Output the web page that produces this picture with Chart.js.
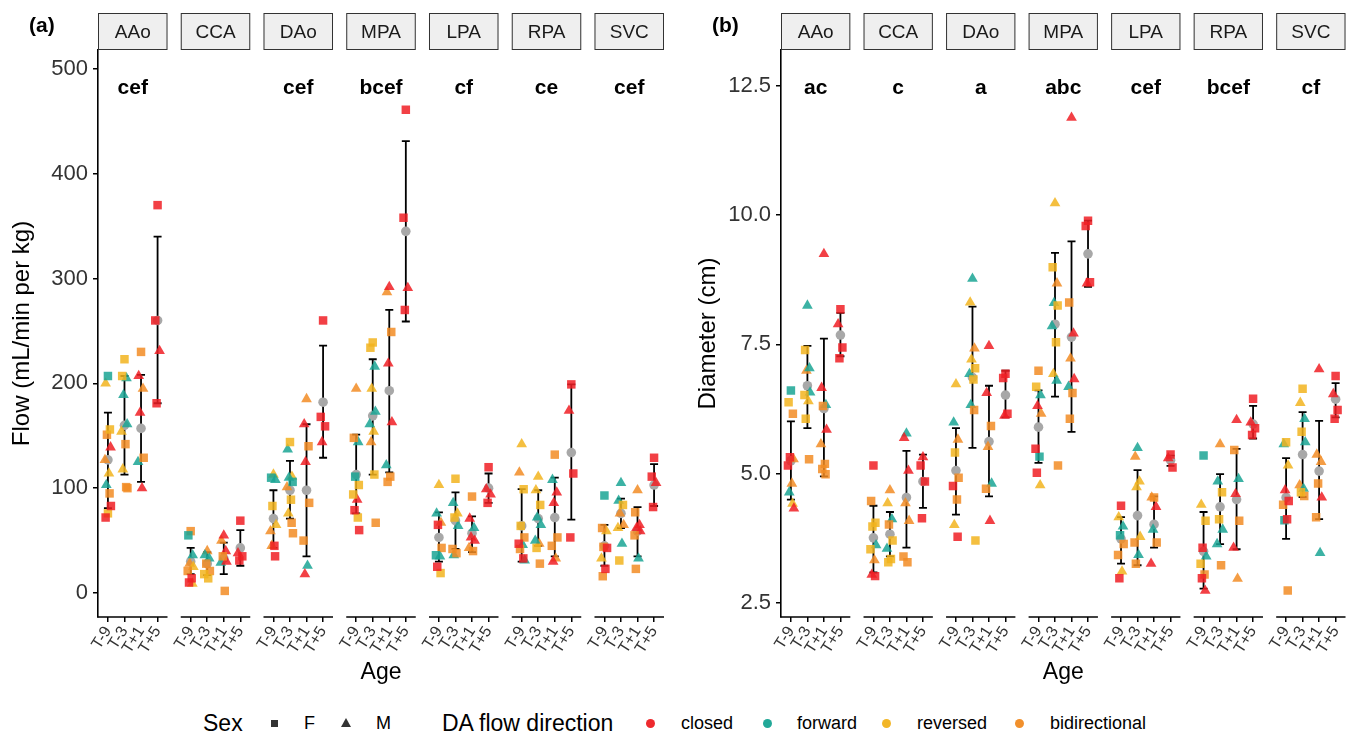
<!DOCTYPE html>
<html>
<head>
<meta charset="utf-8">
<script src="https://cdn.jsdelivr.net/npm/chart.js@4.4.0/dist/chart.umd.min.js"></script>
<style>
  body { margin: 0; background: #fff; font-family: "Liberation Sans", Arial, sans-serif; }
  #wrap { position: relative; width: 1353px; height: 733px; overflow: hidden; }
  canvas { position: absolute; top: 0; }
  .tag { position: absolute; top: 12px; font-weight: bold; font-size: 21px; line-height: 26px; }
  .lg { position: absolute; top: 710px; line-height: 26px; white-space: nowrap; color: #000; }
  .big { font-size: 23px; }
  .small { font-size: 18px; }
  .sq { position: absolute; top: 720px; width: 7px; height: 7px; background: #333; }
  .tri { position: absolute; top: 718px; width: 0; height: 0; border-left: 5px solid transparent;
         border-right: 5px solid transparent; border-bottom: 9px solid #333; }
  .dot { position: absolute; top: 719px; width: 9px; height: 9px; border-radius: 50%; }
</style>
</head>
<body>
<div id="wrap">
  <canvas id="flowChart" width="676" height="700" style="left:0"></canvas>
  <canvas id="diamChart" width="677" height="700" style="left:676px"></canvas>
  <div class="tag" style="left:29px">(a)</div>
  <div class="tag" style="left:712px">(b)</div>

  <span class="lg big" style="left:203px">Sex</span>
  <div class="sq" style="left:271px"></div>
  <span class="lg small" style="left:304px">F</span>
  <div class="tri" style="left:341px"></div>
  <span class="lg small" style="left:376px">M</span>
  <span class="lg big" style="left:442px">DA flow direction</span>
  <div class="dot" style="left:646px;background:#EE2A2E"></div>
  <span class="lg small" style="left:681px">closed</span>
  <div class="dot" style="left:763px;background:#22A898"></div>
  <span class="lg small" style="left:797px">forward</span>
  <div class="dot" style="left:882px;background:#F2B627"></div>
  <span class="lg small" style="left:917px">reversed</span>
  <div class="dot" style="left:1015px;background:#F1902C"></div>
  <span class="lg small" style="left:1050px">bidirectional</span>
</div>
<script>
const facets = ["AAo", "CCA", "DAo", "MPA", "LPA", "RPA", "SVC"];
const ages = ["T-9", "T-3", "T+1", "T+5"];

// panel (a): flow
const flowLetters = ["cef", "", "cef", "bcef", "cf", "ce", "cef"];
const flowMean = [[127, 160, 157, 260], [30, 28, 33, 43], [71, 98, 98, 182], [113, 169, 193, 345],
                  [53, 69, 57, 100], [64, 71, 72, 134], [45, 76, 59, 103]];
const flowLow  = [[81, 113, 106, 181], [18, 17, 18, 26], [43, 71, 35, 129], [76, 113, 115, 259],
                  [30, 42, 39, 86], [30, 45, 35, 70], [26, 62, 35, 83]];
const flowHigh = [[172, 207, 208, 340], [43, 39, 48, 60], [98, 126, 161, 236], [151, 223, 270, 431],
                  [77, 96, 73, 114], [99, 98, 110, 199], [65, 90, 82, 123]];

// points: [age index, value, sex + DA flow (c closed, f forward, r reversed, b bidirectional)]
const flowAAo = [[0,207,"Ff"],[0,200,"Mr"],[0,156,"Fr"],[0,151,"Fb"],[0,139,"Mc"],[0,127,"Mb"],[0,114,"Mr"],
  [0,103,"Mf"],[0,95,"Fb"],[0,83,"Fc"],[0,76,"Fr"],[0,72,"Fc"],
  [1,223,"Fr"],[1,207,"Fr"],[1,205,"Mf"],[1,189,"Mf"],[1,161,"Mf"],[1,154,"Mr"],[1,142,"Fb"],[1,118,"Mr"],
  [1,101,"Fb"],[1,100,"Fb"],
  [2,230,"Fb"],[2,207,"Mc"],[2,195,"Mb"],[2,172,"Mc"],[2,129,"Fb"],[2,125,"Mf"],[2,100,"Mc"],
  [3,370,"Fc"],[3,260,"Fc"],[3,231,"Mc"],[3,181,"Fc"]];
const flowCCA = [[0,59,"Fb"],[0,55,"Ff"],[0,36,"Mf"],[0,28,"Mb"],[0,25,"Mr"],[0,21,"Fb"],[0,14,"Fc"],[0,10,"Fc"],[0,9,"Mr"],
  [1,40,"Mb"],[1,36,"Mf"],[1,33,"Mf"],[1,28,"Fb"],[1,21,"Fb"],[1,18,"Fr"],[1,14,"Fr"],
  [2,55,"Mc"],[2,50,"Mb"],[2,40,"Mc"],[2,35,"Fb"],[2,30,"Mc"],[2,29,"Mf"],[2,2,"Fb"],
  [3,69,"Fc"],[3,38,"Mc"],[3,35,"Fc"],[3,31,"Fc"]];
const flowDAo = [[0,113,"Mr"],[0,110,"Ff"],[0,108,"Mf"],[0,83,"Fr"],[0,65,"Mr"],[0,59,"Mb"],[0,45,"Fc"],[0,45,"Mb"],[0,35,"Fc"],
  [1,144,"Fr"],[1,137,"Mf"],[1,111,"Mr"],[1,110,"Mf"],[1,106,"Ff"],[1,101,"Mb"],[1,89,"Fr"],[1,76,"Mr"],[1,67,"Fb"],[1,57,"Fb"],
  [2,185,"Mb"],[2,161,"Mc"],[2,140,"Fb"],[2,125,"Mc"],[2,86,"Fb"],[2,50,"Fb"],[2,26,"Mf"],[2,18,"Mc"],
  [3,260,"Fc"],[3,168,"Fc"],[3,159,"Fc"],[3,144,"Mc"]];
const flowMPA = [[0,195,"Mb"],[0,148,"Fb"],[0,144,"Mf"],[0,111,"Ff"],[0,103,"Fr"],[0,94,"Fr"],[0,89,"Mc"],[0,79,"Fc"],[0,72,"Fr"],[0,60,"Fc"],
  [1,239,"Fr"],[1,234,"Fr"],[1,216,"Mf"],[1,195,"Mr"],[1,173,"Mf"],[1,161,"Mf"],[1,154,"Mr"],[1,144,"Mb"],[1,113,"Fr"],[1,67,"Fb"],
  [2,292,"Mc"],[2,287,"Mb"],[2,249,"Fb"],[2,219,"Mc"],[2,163,"Mc"],[2,122,"Mf"],[2,111,"Fb"],[2,106,"Fb"],
  [3,461,"Fc"],[3,358,"Fc"],[3,291,"Mc"],[3,270,"Fc"]];
const flowLPA = [[0,103,"Mr"],[0,76,"Mf"],[0,67,"Mb"],[0,65,"Fc"],[0,43,"Fb"],[0,36,"Ff"],[0,35,"Mf"],[0,25,"Fc"],[0,19,"Fr"],
  [1,109,"Fr"],[1,86,"Mf"],[1,76,"Mr"],[1,72,"Fr"],[1,64,"Mf"],[1,42,"Fb"],[1,38,"Fb"],[1,36,"Mf"],
  [2,92,"Fb"],[2,71,"Mc"],[2,62,"Mf"],[2,53,"Mc"],[2,50,"Mc"],[2,43,"Mb"],[2,40,"Fb"],
  [3,120,"Fc"],[3,99,"Mc"],[3,94,"Mc"],[3,86,"Fc"]];
const flowRPA = [[0,142,"Mr"],[0,115,"Mb"],[0,99,"Fr"],[0,64,"Fr"],[0,53,"Fb"],[0,47,"Fc"],[0,46,"Mf"],[0,42,"Fb"],[0,33,"Fc"],[0,31,"Mf"],
  [1,111,"Mr"],[1,98,"Mr"],[1,84,"Fr"],[1,72,"Mf"],[1,65,"Mf"],[1,50,"Mf"],[1,47,"Mb"],[1,43,"Fr"],[1,28,"Fb"],
  [2,132,"Fb"],[2,108,"Mf"],[2,96,"Mc"],[2,86,"Mc"],[2,53,"Fb"],[2,45,"Fb"],[2,33,"Mb"],[2,30,"Mc"],
  [3,199,"Fc"],[3,174,"Mc"],[3,114,"Fc"],[3,53,"Fc"]];
const flowSVC = [[0,93,"Ff"],[0,62,"Fb"],[0,59,"Mr"],[0,44,"Fb"],[0,43,"Fc"],[0,33,"Mr"],[0,23,"Fc"],[0,16,"Fb"],
  [1,105,"Mf"],[1,88,"Mf"],[1,84,"Fr"],[1,76,"Mb"],[1,65,"Mb"],[1,62,"Mr"],[1,47,"Mf"],[1,31,"Fr"],
  [2,98,"Mb"],[2,77,"Fb"],[2,65,"Mc"],[2,62,"Mc"],[2,59,"Mc"],[2,55,"Fb"],[2,33,"Mf"],[2,23,"Fb"],
  [3,129,"Fc"],[3,111,"Fc"],[3,105,"Mc"],[3,82,"Fc"]];

// panel (b): diameter
const diamLetters = ["ac", "c", "a", "abc", "cef", "bcef", "cf"];
const diamMean = [[5.25, 6.70, 6.26, 7.68], [3.76, 3.83, 4.54, 4.85], [5.06, 6.86, 5.62, 6.52], [5.90, 7.89, 7.64, 9.25],
                  [3.74, 4.19, 4.02, 5.26], [3.50, 4.36, 4.50, 5.96], [4.54, 5.37, 5.05, 6.44]];
const diamLow  = [[4.50, 5.88, 4.95, 7.27], [3.09, 3.40, 3.57, 4.34], [4.21, 5.50, 4.56, 6.09], [5.21, 6.49, 5.81, 8.61],
                  [3.26, 3.23, 3.57, 5.15], [2.78, 3.64, 3.54, 5.68], [3.74, 4.55, 4.12, 6.09]];
const diamHigh = [[6.01, 7.47, 7.61, 8.11], [4.38, 4.26, 5.44, 5.37], [5.88, 8.23, 6.70, 6.99], [6.61, 9.27, 9.49, 9.89],
                  [4.16, 5.07, 4.56, 5.35], [4.26, 4.99, 5.48, 6.31], [5.30, 6.19, 6.02, 6.75]];

const diamAAo = [[0,6.61,"Ff"],[0,6.38,"Fr"],[0,6.16,"Fb"],[0,5.32,"Fc"],[0,5.28,"Mb"],[0,5.16,"Fc"],[0,4.81,"Mb"],[0,4.64,"Mf"],[0,4.42,"Mr"],[0,4.33,"Mc"],
  [1,8.25,"Mf"],[1,7.39,"Fr"],[1,7.04,"Mf"],[1,6.99,"Mb"],[1,6.57,"Mf"],[1,6.52,"Fr"],[1,6.40,"Mr"],[1,6.06,"Fr"],[1,5.28,"Fb"],
  [2,9.25,"Mc"],[2,6.66,"Mc"],[2,6.33,"Mf"],[2,6.31,"Fb"],[2,5.85,"Mc"],[2,5.57,"Mb"],[2,5.19,"Fb"],[2,5.09,"Fb"],[2,4.99,"Fb"],
  [3,8.18,"Fc"],[3,7.89,"Mc"],[3,7.44,"Fc"],[3,7.23,"Fc"]];
const diamCCA = [[0,5.16,"Fc"],[0,4.47,"Fb"],[0,4.05,"Fr"],[0,3.98,"Fr"],[0,3.62,"Mf"],[0,3.54,"Fr"],[0,3.33,"Mb"],[0,3.05,"Mc"],[0,3.02,"Fc"],
  [1,4.68,"Mb"],[1,4.43,"Mr"],[1,4.12,"Mf"],[1,4.02,"Fb"],[1,3.71,"Fr"],[1,3.55,"Mf"],[1,3.35,"Fr"],[1,3.29,"Fr"],
  [2,5.78,"Mf"],[2,5.69,"Mc"],[2,5.06,"Mc"],[2,4.43,"Mb"],[2,4.09,"Mb"],[2,3.40,"Fb"],[2,3.29,"Fb"],
  [3,5.32,"Mc"],[3,5.16,"Fc"],[3,4.85,"Fc"],[3,4.14,"Fc"]];
const diamDAo = [[0,6.73,"Mr"],[0,5.99,"Mf"],[0,5.66,"Mb"],[0,5.41,"Fr"],[0,4.92,"Fb"],[0,4.76,"Fc"],[0,4.50,"Fb"],[0,4.01,"Mr"],[0,3.78,"Fc"],
  [1,8.77,"Mf"],[1,8.31,"Mr"],[1,7.42,"Mb"],[1,7.21,"Mr"],[1,7.04,"Fr"],[1,6.93,"Mf"],[1,6.82,"Fr"],[1,6.33,"Mf"],[1,6.23,"Fb"],[1,3.71,"Fr"],
  [2,7.47,"Mc"],[2,6.56,"Mc"],[2,5.92,"Fb"],[2,5.52,"Mb"],[2,4.81,"Mf"],[2,4.71,"Fb"],[2,4.09,"Mc"],
  [3,6.93,"Fc"],[3,6.85,"Fc"],[3,6.16,"Fc"],[3,6.12,"Mc"]];
const diamMPA = [[0,6.99,"Fb"],[0,6.68,"Fr"],[0,6.52,"Mf"],[0,6.31,"Mc"],[0,6.16,"Mb"],[0,5.48,"Fc"],[0,5.33,"Ff"],[0,5.02,"Fc"],[0,4.78,"Mr"],
  [1,10.23,"Mr"],[1,8.99,"Fr"],[1,8.68,"Mb"],[1,8.30,"Mf"],[1,8.25,"Fr"],[1,7.85,"Mf"],[1,7.54,"Fr"],[1,6.93,"Mr"],[1,6.80,"Mf"],[1,5.16,"Fb"],
  [2,11.88,"Mc"],[2,8.31,"Fb"],[2,7.71,"Mc"],[2,7.23,"Mb"],[2,6.83,"Mc"],[2,6.68,"Mf"],[2,6.56,"Fb"],[2,6.06,"Fb"],
  [3,9.89,"Fc"],[3,9.79,"Fc"],[3,8.70,"Fc"],[3,8.68,"Mc"]];
const diamLPA = [[0,4.38,"Fc"],[0,4.16,"Mr"],[0,3.98,"Mf"],[0,3.81,"Ff"],[0,3.64,"Fb"],[0,3.43,"Fb"],[0,3.11,"Mr"],[0,2.98,"Fc"],
  [1,5.50,"Mf"],[1,5.33,"Mb"],[1,4.85,"Mr"],[1,4.74,"Mr"],[1,3.78,"Mr"],[1,3.67,"Fb"],[1,3.43,"Mf"],[1,3.26,"Fb"],
  [2,4.54,"Fb"],[2,4.54,"Mb"],[2,4.36,"Mc"],[2,3.92,"Mf"],[2,3.67,"Fb"],[2,3.26,"Mc"],
  [3,5.37,"Fc"],[3,5.30,"Mc"],[3,5.12,"Fc"]];
const diamRPA = [[0,5.35,"Ff"],[0,4.40,"Mr"],[0,4.09,"Fr"],[0,3.57,"Fc"],[0,3.40,"Mf"],[0,3.26,"Fr"],[0,3.05,"Fb"],[0,2.98,"Fc"],[0,2.74,"Mc"],
  [1,5.57,"Mb"],[1,4.85,"Mf"],[1,4.64,"Fr"],[1,4.12,"Fr"],[1,3.92,"Mf"],[1,3.64,"Mf"],[1,3.23,"Fb"],
  [2,6.04,"Mc"],[2,5.46,"Fb"],[2,4.90,"Mf"],[2,4.61,"Mc"],[2,4.09,"Fb"],[2,3.57,"Mc"],[2,2.97,"Mb"],
  [3,6.45,"Fc"],[3,5.99,"Mc"],[3,5.88,"Fc"],[3,5.75,"Fc"]];
const diamSVC = [[0,5.61,"Fr"],[0,5.57,"Mf"],[0,5.16,"Mr"],[0,4.68,"Mc"],[0,4.47,"Fc"],[0,4.40,"Fb"],[0,4.12,"Fc"],[0,4.10,"Ff"],[0,2.74,"Fb"],
  [1,6.64,"Fr"],[1,6.37,"Mr"],[1,6.06,"Mf"],[1,5.81,"Fr"],[1,5.61,"Mf"],[1,4.78,"Mb"],[1,4.71,"Mf"],[1,4.64,"Fr"],[1,4.57,"Fb"],
  [2,7.02,"Mc"],[2,5.37,"Mb"],[2,5.23,"Mb"],[2,4.81,"Fb"],[2,4.54,"Mc"],[2,4.16,"Fb"],[2,3.47,"Mf"],
  [3,6.89,"Fc"],[3,6.54,"Mc"],[3,6.23,"Fc"],[3,6.06,"Fc"]];

const flowPoints = [flowAAo, flowCCA, flowDAo, flowMPA, flowLPA, flowRPA, flowSVC];
const diamPoints = [diamAAo, diamCCA, diamDAo, diamMPA, diamLPA, diamRPA, diamSVC];

const dirColors = { c: "rgba(240,30,36,0.85)", f: "rgba(26,165,148,0.85)",
                    r: "rgba(242,180,30,0.85)", b: "rgba(242,140,36,0.85)" };
const jitter = [0, -0.14, 0.12, -0.06, 0.16, -0.18, 0.06, -0.1, 0.1, 0.18];
const PITCH = 5;

function buildDatasets(pointSets, means) {
  const codes = ["Fc", "Ff", "Fr", "Fb", "Mc", "Mf", "Mr", "Mb"];
  const groups = {};
  codes.forEach(k => groups[k] = []);
  pointSets.forEach((pts, f) => {
    const count = {};
    pts.forEach(([a, v, code]) => {
      const n = count[a] = (count[a] || 0) + 1;
      groups[code].push({ x: f * PITCH + a + 1 + jitter[(n - 1) % jitter.length], y: v });
    });
  });
  const sets = codes.map(code => ({
    label: code,
    data: groups[code],
    pointStyle: code[0] === "F" ? "rect" : "triangle",
    pointRadius: code[0] === "F" ? 6 : 6.2,
    backgroundColor: dirColors[code[1]],
    borderWidth: 0,
  }));
  const meanData = [];
  means.forEach((row, f) => row.forEach((m, a) => meanData.push({ x: f * PITCH + a + 1, y: m })));
  sets.push({ label: "mean", data: meanData, pointStyle: "circle", pointRadius: 4.8,
              backgroundColor: "#A8A8A8", borderWidth: 0 });
  return sets;
}

function facetPlugin(lows, highs, letters) {
  return {
    id: "facets",
    beforeDatasetsDraw(chart) {
      const { ctx, scales: { x, y } } = chart;
      ctx.save();
      ctx.strokeStyle = "#000";
      ctx.lineWidth = 1.8;
      lows.forEach((row, f) => row.forEach((lo, a) => {
        const px = x.getPixelForValue(f * PITCH + a + 1);
        const y1 = y.getPixelForValue(lo), y2 = y.getPixelForValue(highs[f][a]);
        ctx.beginPath();
        ctx.moveTo(px, y1); ctx.lineTo(px, y2);
        ctx.moveTo(px - 4, y1); ctx.lineTo(px + 4, y1);
        ctx.moveTo(px - 4, y2); ctx.lineTo(px + 4, y2);
        ctx.stroke();
      }));
      ctx.restore();
    },
    afterDraw(chart) {
      const { ctx, chartArea, scales: { x } } = chart;
      ctx.save();
      facets.forEach((name, f) => {
        const l = x.getPixelForValue(f * PITCH + 0.4);
        const r = x.getPixelForValue(f * PITCH + 4.6);
        // strip
        ctx.fillStyle = "#EFEFEF";
        ctx.strokeStyle = "#333";
        ctx.lineWidth = 1;
        ctx.fillRect(l, 13, r - l, chartArea.top - 13);
        ctx.strokeRect(l + 0.5, 13.5, r - l - 1, chartArea.top - 14);
        ctx.fillStyle = "#1a1a1a";
        ctx.font = "19px 'Liberation Sans', Arial, sans-serif";
        ctx.textAlign = "center";
        ctx.textBaseline = "middle";
        ctx.fillText(name, (l + r) / 2, (13 + chartArea.top) / 2 + 1);
        // significance letters
        ctx.fillStyle = "#000";
        ctx.font = "bold 21px 'Liberation Sans', Arial, sans-serif";
        ctx.fillText(letters[f], (l + r) / 2, chartArea.top + 38);
        // facet x axis line
        ctx.strokeStyle = "#000";
        ctx.lineWidth = 1.6;
        ctx.beginPath();
        ctx.moveTo(f === 0 ? chartArea.left - 0.8 : l, chartArea.bottom);
        ctx.lineTo(r, chartArea.bottom);
        ctx.stroke();
      });
      ctx.restore();
    }
  };
}

function makeChart(id, pointSets, means, lows, highs, letters, cfg) {
  return new Chart(document.getElementById(id), {
    type: "scatter",
    data: { datasets: buildDatasets(pointSets, means) },
    plugins: [facetPlugin(lows, highs, letters)],
    options: {
      responsive: false,
      animation: false,
      layout: { padding: cfg.padding },
      plugins: { legend: { display: false }, tooltip: { enabled: false } },
      scales: {
        x: {
          type: "linear", min: 0.4, max: 6 * PITCH + 4.6,
          afterBuildTicks: s => {
            s.ticks = [];
            facets.forEach((_, f) => ages.forEach((_, a) => s.ticks.push({ value: f * PITCH + a + 1 })));
          },
          afterFit: s => { s.height = 69; },
          ticks: {
            autoSkip: false, minRotation: 58, maxRotation: 58, padding: 1,
            font: { size: 16, family: "'Liberation Sans', Arial, sans-serif" }, color: "#333",
            callback: v => ages[(Math.round(v) - 1) % PITCH]
          },
          grid: { drawOnChartArea: false, drawTicks: true, tickLength: 5, color: "#000", lineWidth: 1.5 },
          border: { display: false },
          title: { display: true, text: "Age", color: "#000", padding: 0,
                   font: { size: 23, family: "'Liberation Sans', Arial, sans-serif" } }
        },
        y: {
          min: cfg.yMin, max: cfg.yMax,
          afterBuildTicks: s => { s.ticks = cfg.yTicks.map(v => ({ value: v })); },
          afterFit: s => { s.width = cfg.yWidth; },
          ticks: { padding: 5, color: "#333", callback: cfg.yFormat,
                   font: { size: 22, family: "'Liberation Sans', Arial, sans-serif" } },
          grid: { drawOnChartArea: false, tickLength: 5, color: "#000", lineWidth: 1.5 },
          border: { display: true, color: "#000", width: 1.6 },
          title: { display: true, text: cfg.yTitle, color: "#000", padding: 0,
                   font: { size: 24, family: "'Liberation Sans', Arial, sans-serif" } }
        }
      }
    }
  });
}

makeChart("flowChart", flowPoints, flowMean, flowLow, flowHigh, flowLetters, {
  padding: { top: 50, left: 8, right: 12, bottom: 14 },
  yMin: -22.9, yMax: 518, yTicks: [0, 100, 200, 300, 400, 500], yWidth: 90,
  yFormat: v => String(v), yTitle: "Flow (mL/min per kg)"
});

makeChart("diamChart", diamPoints, diamMean, diamLow, diamHigh, diamLetters, {
  padding: { top: 50, left: 18, right: 6, bottom: 14 },
  yMin: 2.23, yMax: 13.19, yTicks: [2.5, 5, 7.5, 10, 12.5], yWidth: 87,
  yFormat: v => v.toFixed(1), yTitle: "Diameter (cm)"
});
</script>
</body>
</html>
